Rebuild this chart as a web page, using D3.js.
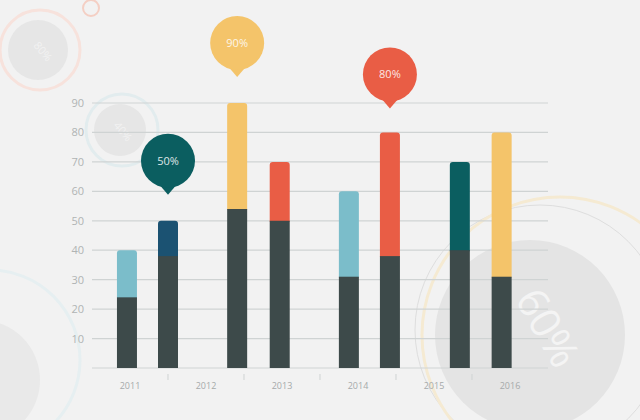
<!DOCTYPE html>
<html lang="en">
<head>
<meta charset="UTF-8">
<title>Stacked bars</title>
<script src="https://d3js.org/d3.v7.min.js"></script>
<style>
  body { margin: 0; background: #f2f2f2; }
  text { font-family: "Open Sans", sans-serif; }
</style>
</head>
<body>
<svg id="canvas" width="640" height="420"></svg>
<script>
// data
let years = [2011, 2012, 2013, 2014, 2015, 2016];
let barPos = [2010.96, 2011.5, 2012.41, 2012.97, 2013.88, 2014.42, 2015.34, 2015.89];
let baseVals = [24, 38, 54, 50, 31, 38, 40, 31];
let totalVals = [40, 50, 90, 70, 60, 80, 70, 80];
let topColors = ["#7bbdca", "#1b5272", "#f4c46a", "#e95d45", "#7bbdca", "#e95d45", "#0b5e60", "#f4c46a"];
let yTicks = [10, 20, 30, 40, 50, 60, 70, 80, 90];
let callouts = [
  {bar: 1, label: "50%", color: "#0b5e60", lift: 26},
  {bar: 2, label: "90%", color: "#f4c46a", lift: 26},
  {bar: 5, label: "80%", color: "#e95d45", lift: 24}
];

let svg = d3.select("#canvas");
let x = d3.scaleLinear().domain([2011, 2016]).range([130, 510]);
let y = d3.scaleLinear().domain([0, 90]).range([368, 103]);

// background decoration
let deco = svg.append("g");
deco.append("circle").attr("cx", 38).attr("cy", 50).attr("r", 30).attr("fill", "#e6e6e6");
deco.append("circle").attr("cx", 40).attr("cy", 50).attr("r", 40).attr("fill", "none").attr("stroke", "#f7e2dc").attr("stroke-width", 3);
deco.append("circle").attr("cx", 91).attr("cy", 8).attr("r", 8).attr("fill", "none").attr("stroke", "#f4cfc4").attr("stroke-width", 2);
deco.append("circle").attr("cx", 120).attr("cy", 130).attr("r", 26).attr("fill", "#e6e6e6");
deco.append("circle").attr("cx", 122).attr("cy", 130).attr("r", 36).attr("fill", "none").attr("stroke", "#e2ecee").attr("stroke-width", 3);
deco.append("circle").attr("cx", -20).attr("cy", 380).attr("r", 60).attr("fill", "#e9e9e9");
deco.append("circle").attr("cx", -10).attr("cy", 360).attr("r", 90).attr("fill", "none").attr("stroke", "#e6eff1").attr("stroke-width", 3);
deco.append("circle").attr("cx", 530).attr("cy", 335).attr("r", 95).attr("fill", "#e4e4e4");
deco.append("circle").attr("cx", 540).attr("cy", 330).attr("r", 125).attr("fill", "none").attr("stroke", "#dedede").attr("stroke-width", 1);
deco.append("circle").attr("cx", 560).attr("cy", 335).attr("r", 138).attr("fill", "none").attr("stroke", "#f5ead2").attr("stroke-width", 3);
deco.append("text").attr("transform", "translate(535,335) rotate(60)").attr("text-anchor", "middle")
  .attr("font-size", 42).attr("fill", "#f4f4f4").text("60%");
deco.append("text").attr("transform", "translate(40,54) rotate(50)").attr("text-anchor", "middle")
  .attr("font-size", 11).attr("fill", "#f2f2f2").text("80%");
deco.append("text").attr("transform", "translate(120,134) rotate(50)").attr("text-anchor", "middle")
  .attr("font-size", 11).attr("fill", "#f2f2f2").text("40%");

// grid
let grid = svg.append("g");
grid.selectAll("line").data([0].concat(yTicks)).join("line")
  .attr("x1", 92).attr("x2", 548)
  .attr("y1", d => y(d)).attr("y2", d => y(d))
  .attr("stroke", "#cfd3d3").attr("stroke-width", 1.2);
grid.selectAll("text").data(yTicks).join("text")
  .attr("x", 84).attr("y", d => y(d) + 4).attr("text-anchor", "end")
  .attr("font-size", 11).attr("fill", "#b0b4b4").text(d => d);

// x axis
let xb = svg.append("g");
xb.selectAll("line").data(years.slice(0, -1)).join("line")
  .attr("x1", d => x(d + 0.5)).attr("x2", d => x(d + 0.5))
  .attr("y1", 374).attr("y2", 380).attr("stroke", "#cfd3d3");
xb.selectAll("text").data(years).join("text")
  .attr("x", d => x(d)).attr("y", 389).attr("text-anchor", "middle")
  .attr("font-size", 9).attr("fill", "#a6aaaa").text(d => d);

// bars
let bw = 20;
let bars = svg.append("g");
barPos.forEach(function (p, i) {
  let cx = x(p);
  bars.append("path")
    .attr("d", roundTop(cx - bw / 2, y(totalVals[i]), bw, y(baseVals[i]) - y(totalVals[i]) + 1, 3))
    .attr("fill", topColors[i]);
  bars.append("rect")
    .attr("x", cx - bw / 2).attr("y", y(baseVals[i]))
    .attr("width", bw).attr("height", y(0) - y(baseVals[i]))
    .attr("fill", "#3d4a4a");
});

function roundTop(x0, y0, w, h, r) {
  return "M" + x0 + "," + (y0 + h) + "V" + (y0 + r) + "Q" + x0 + "," + y0 + " " + (x0 + r) + "," + y0 +
    "H" + (x0 + w - r) + "Q" + (x0 + w) + "," + y0 + " " + (x0 + w) + "," + (y0 + r) + "V" + (y0 + h) + "Z";
}

// callout pins
let pins = svg.append("g");
callouts.forEach(function (c) {
  let cx = x(barPos[c.bar]);
  let tip = y(totalVals[c.bar]) - c.lift;
  let cy = tip - 34;
  pins.append("path")
    .attr("d", "M" + (cx - 12) + "," + (cy + 20) + "L" + cx + "," + tip + "L" + (cx + 12) + "," + (cy + 20) + "Z")
    .attr("fill", c.color);
  pins.append("circle").attr("cx", cx).attr("cy", cy).attr("r", 27).attr("fill", c.color);
  pins.append("text").attr("x", cx).attr("y", cy + 4).attr("text-anchor", "middle")
    .attr("font-size", 11).attr("fill", "#ffffff").attr("opacity", 0.85).text(c.label);
});
</script>
</body>
</html>
